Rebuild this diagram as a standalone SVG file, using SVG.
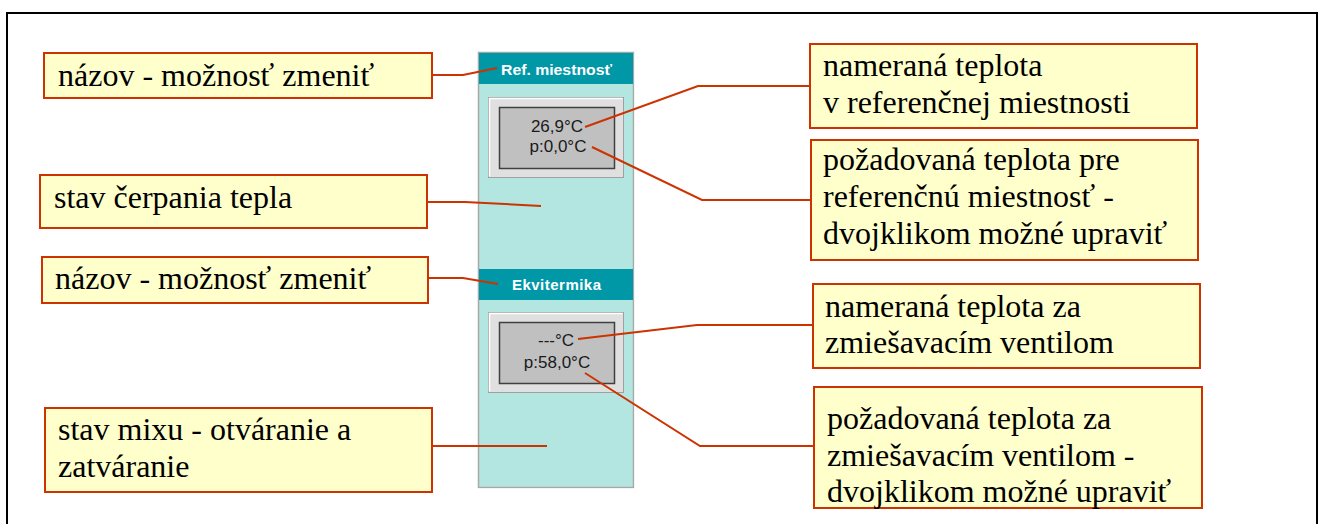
<svg xmlns="http://www.w3.org/2000/svg" width="1323" height="524" viewBox="0 0 1323 524">
<style>
.box{fill:#FFFFCC;stroke:#CC3300;stroke-width:2}
.t{font-family:"Liberation Serif","Times New Roman",serif;font-size:32px;fill:#000}
.ln{fill:none;stroke:#CC3300;stroke-width:2}
.hdr{fill:#0097A7}
.ht{font-family:"Liberation Sans",Arial,sans-serif;font-size:15px;font-weight:bold;fill:#fff}
.dt{font-family:"Liberation Sans",Arial,sans-serif;font-size:17px;fill:#1a1a1a;text-anchor:middle}
</style>
<rect width="1323" height="524" fill="#fff"/>
<path d="M7,530 V13 H1317 V530" fill="none" stroke="#000" stroke-width="2"/>

<g id="panel">
<rect x="478.5" y="52.5" width="155" height="435" fill="#B3E6E1" stroke="#A8A8A8" stroke-width="1.5"/>
<line x1="635" y1="53" x2="635" y2="489" stroke="#fff" stroke-width="1"/>
<line x1="478" y1="489" x2="635" y2="489" stroke="#fff" stroke-width="1"/>
</g>
<g id="hdr1">
<rect class="hdr" x="479" y="53" width="154" height="31"/>
<text class="ht" x="501" y="75" textLength="111" lengthAdjust="spacingAndGlyphs">Ref. miestnosť</text>
</g>
<g id="disp1">
<rect x="488.5" y="97.5" width="135" height="80" fill="#E0E0E0" stroke="#A0A0A0"/>
<path d="M489.5,176.5 V98.5 H622.5" fill="none" stroke="#fff" stroke-width="1.5"/>
<rect x="499.5" y="107.5" width="115" height="61" fill="#C0C0C0" stroke="#404040" stroke-width="1.5"/>
<text class="dt" x="557" y="132">26,9°C</text>
<text class="dt" x="558" y="152">p:0,0°C</text>
</g>
<g id="hdr2">
<rect class="hdr" x="479" y="269" width="154" height="31"/>
<text class="ht" x="512" y="290" textLength="89" lengthAdjust="spacing">Ekvitermika</text>
</g>
<g id="disp2">
<rect x="488.5" y="312.5" width="135" height="80" fill="#E0E0E0" stroke="#A0A0A0"/>
<path d="M489.5,391.5 V313.5 H622.5" fill="none" stroke="#fff" stroke-width="1.5"/>
<rect x="499.5" y="322.5" width="115" height="61" fill="#C0C0C0" stroke="#404040" stroke-width="1.5"/>
<text class="dt" x="556" y="346">---°C</text>
<text class="dt" x="557" y="368">p:58,0°C</text>
</g>

<g id="connectors">
<polyline class="ln" points="432,75 463,75 497,68"/>
<polyline class="ln" points="427,202 465,202 541,206"/>
<polyline class="ln" points="428,278 463,278 498,284"/>
<polyline class="ln" points="432,446 547,446"/>
<polyline class="ln" points="585,127 698,86 810,86"/>
<polyline class="ln" points="592,147 702,200 811,200"/>
<polyline class="ln" points="578,339 697,325 813,325"/>
<polyline class="ln" points="585,373 700,446 814,446"/>
</g>

<g id="l1"><rect class="box" x="44" y="53" width="388" height="45"/><text class="t" x="58" y="86">názov - možnosť zmeniť</text></g>
<g id="l2"><rect class="box" x="40" y="175" width="387" height="53"/><text class="t" x="54" y="208">stav čerpania tepla</text></g>
<g id="l3"><rect class="box" x="42" y="257" width="386" height="46"/><text class="t" x="55" y="289">názov - možnosť zmeniť</text></g>
<g id="l4"><rect class="box" x="45" y="408" width="387" height="84"/><text class="t" x="58" y="440">stav mixu - otváranie a</text><text class="t" x="58" y="477">zatváranie</text></g>

<g id="r1"><rect class="box" x="810" y="44" width="387" height="84"/><text class="t" x="823" y="76">nameraná teplota</text><text class="t" x="823" y="113">v referenčnej miestnosti</text></g>
<g id="r2"><rect class="box" x="811" y="140" width="387" height="120"/><text class="t" x="823" y="170">požadovaná teplota pre</text><text class="t" x="823" y="207">referenčnú miestnosť -</text><text class="t" x="823" y="244">dvojklikom možné upraviť</text></g>
<g id="r3"><rect class="box" x="813" y="284" width="387" height="84"/><text class="t" x="825" y="317">nameraná teplota za</text><text class="t" x="825" y="353">zmiešavacím ventilom</text></g>
<g id="r4"><rect class="box" x="814" y="387" width="388" height="121"/><text class="t" x="827" y="429">požadovaná teplota za</text><text class="t" x="827" y="466">zmiešavacím ventilom -</text><text class="t" x="827" y="502">dvojklikom možné upraviť</text></g>
</svg>
